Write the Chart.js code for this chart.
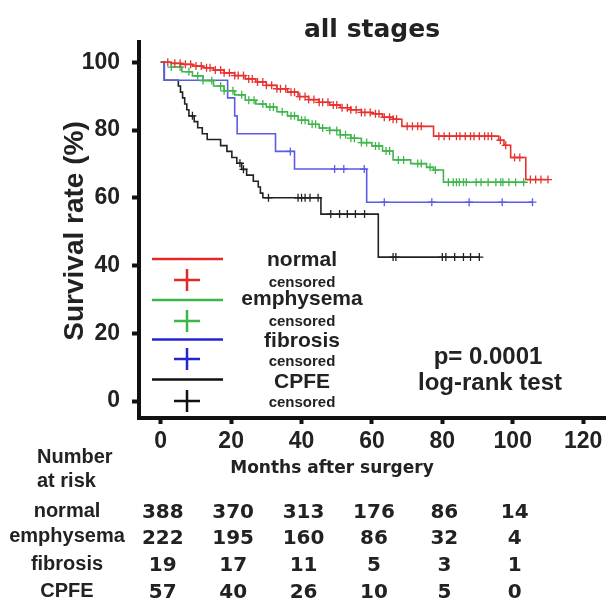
<!DOCTYPE html>
<html>
<head>
<meta charset="utf-8">
<script src="https://cdn.jsdelivr.net/npm/chart.js@4.4.1/dist/chart.umd.min.js"></script>
<style>
html, body { margin: 0; padding: 0; background: #fff; }
canvas { display: block; }
</style>
</head>
<body>
<canvas id="kmChart" width="611" height="600"></canvas>
<script>
// Kaplan-Meier steps: month of the drop and survival (%) after it
const normalMonths = [0, 3, 6, 9, 12, 15, 18, 21, 24, 27, 30, 33, 36, 39, 42, 45, 48, 51, 54, 57, 60, 63, 66, 68.5, 77.5, 96, 97.5, 99.4, 103.7, 110];
const normalSurv   = [100, 99.7, 99.4, 98.9, 98.4, 97.7, 96.9, 96.1, 95.1, 94.2, 93.2, 92.2, 91.2, 89.9, 89.0, 88.2, 87.4, 86.6, 86.0, 85.2, 84.8, 83.8, 83.2, 81.1, 78.2, 77.0, 75.5, 71.9, 65.4, 65.4];

const emphMonths = [0, 3, 6, 9, 12, 15, 18, 21, 24, 27, 30, 33, 36, 39, 42, 45, 48, 51, 54, 57, 60, 63, 66, 71, 75.5, 77.5, 80.3, 103.7];
const emphSurv   = [100, 98.6, 97.2, 96.0, 94.6, 93.0, 91.6, 90.4, 88.8, 87.7, 86.8, 85.4, 84.2, 82.9, 81.7, 80.6, 79.9, 78.6, 77.6, 76.3, 75.3, 73.8, 71.2, 70.1, 69.0, 68.2, 64.6, 64.6];

const fibMonths = [0, 1, 19, 21, 21.7, 32.6, 38, 58.5, 105.6];
const fibSurv   = [100, 94.7, 89.5, 84.2, 78.9, 73.7, 68.5, 58.7, 58.7];

const cpfeMonths = [0, 1, 5, 5.6, 6.2, 6.8, 7.4, 8, 9.5, 10.5, 11.8, 13.2, 17, 18.8, 20.2, 21.6, 23, 24.4, 26.3, 27.7, 28.3, 29, 45.5, 61.8, 90.5];
const cpfeSurv   = [100, 94.7, 93, 91.2, 89.5, 87.7, 86, 84.2, 82.5, 80.7, 78.9, 77.2, 75.4, 73.7, 71.9, 70.2, 68.4, 66.7, 64.9, 63.2, 61.4, 60, 55.2, 42.5, 42.5];

// censored observations (months)
const normalCens = [2, 4, 5.5, 7, 8.5, 10, 11.5, 13, 14, 15.5, 17, 18, 19.5, 21, 22, 23.5, 25, 26, 27.5, 29, 30, 31.5, 33, 34, 35.5, 37, 38, 39.5, 41, 42, 43.5, 45, 46, 47.5, 49, 50, 51.5, 53, 54, 55.5, 57, 58, 59.5, 61, 62, 63.5, 65, 66, 67, 70, 71.5, 73, 74, 79, 80.5, 82, 84, 85, 86.5, 88, 89, 90.5, 92, 93, 94, 96.5, 98, 100.5, 102, 105, 106.5, 108, 110];
const emphCens = [3, 5.5, 8, 10.5, 12, 14.5, 17, 18, 20.5, 23, 25, 26.5, 29, 31, 32, 34.5, 37, 38, 40, 41, 43, 44, 46, 48, 50, 51, 52.5, 54, 55, 57, 58.5, 61, 62, 64, 65, 67.5, 69, 73, 74, 76.5, 78, 81.7, 83.1, 84, 84.8, 86, 86.8, 89.6, 91, 93, 95.2, 96.6, 97.2, 98.9, 100.8, 103.1];
const fibCens = [36.8, 49.4, 52, 57.8, 63.5, 77, 87.6, 97, 105.6];
const cpfeCens = [9, 22.5, 23.5, 30.6, 39, 40, 41, 42.4, 44.7, 48.3, 50.8, 53, 55.3, 57.9, 66, 66.8, 80, 81, 83.5, 86, 88, 90.5];

// number at risk table
const riskMonths = [0, 20, 40, 60, 80, 100];
const riskNormal = [388, 370, 313, 176, 86, 14];
const riskEmph   = [222, 195, 160, 86, 32, 4];
const riskFib    = [19, 17, 11, 5, 3, 1];
const riskCpfe   = [57, 40, 26, 10, 5, 0];

const groupNames = ['normal', 'emphysema', 'fibrosis', 'CPFE'];
const yTicks = [0, 20, 40, 60, 80, 100];
const xTicks = [0, 20, 40, 60, 80, 100, 120];

const lineColors = ['#e8302e', '#3fb54c', '#5b5be6', '#222222'];
const legendColors = ['#e3282a', '#3cb54a', '#2424d0', '#111111'];

function stepPoints(months, surv) {
  return months.map((m, i) => ({ x: m, y: surv[i] }));
}

function survAt(months, surv, t) {
  let s = surv[0];
  for (let i = 0; i < months.length; i++) {
    if (months[i] <= t) s = surv[i];
  }
  return s;
}

function censPoints(cens, months, surv) {
  return cens.map(t => ({ x: t, y: survAt(months, surv, t) }));
}

const groups = [
  [normalMonths, normalSurv, normalCens],
  [emphMonths, emphSurv, emphCens],
  [fibMonths, fibSurv, fibCens],
  [cpfeMonths, cpfeSurv, cpfeCens]
];

let datasets = [];
groups.forEach((g, i) => {
  datasets.push({
    label: groupNames[i],
    data: stepPoints(g[0], g[1]),
    stepped: 'before',
    borderColor: lineColors[i],
    borderWidth: 1.6,
    pointRadius: 0,
    fill: false
  });
  datasets.push({
    label: groupNames[i] + ' censored',
    data: censPoints(g[2], g[0], g[1]),
    showLine: false,
    pointStyle: 'cross',
    pointRadius: 4,
    borderColor: lineColors[i],
    borderWidth: 1.3
  });
});

const boldSans = (size) => 'bold ' + size + 'px "Liberation Sans", Arial, sans-serif';
const boldDejavu = (size) => 'bold ' + size + 'px "DejaVu Sans", sans-serif';

const textPlugin = {
  id: 'kmText',
  afterDraw(chart) {
    const c = chart.ctx;
    const area = chart.chartArea;
    const xs = chart.scales.x;
    c.save();
    c.fillStyle = '#222';

    // title
    c.font = boldDejavu(25);
    c.textAlign = 'center';
    c.textBaseline = 'alphabetic';
    c.fillText('all stages', 372, 37);

    // y axis title
    c.save();
    c.translate(83, 231);
    c.rotate(-Math.PI / 2);
    c.font = boldSans(28);
    c.fillText('Survival rate (%)', 0, 0);
    c.restore();

    // x axis title
    c.font = boldDejavu(17);
    c.fillText('Months after surgery', 332, 473);

    // legend
    const lineY = [259, 300, 339.5, 379.5];
    const crossY = [280, 321, 359, 401];
    const labelY = [266, 305, 347, 388];
    const censY = [287, 326, 366, 407];
    for (let i = 0; i < 4; i++) {
      c.strokeStyle = legendColors[i];
      c.lineWidth = 2.5;
      c.beginPath();
      c.moveTo(152, lineY[i]);
      c.lineTo(223, lineY[i]);
      c.moveTo(174, crossY[i]);
      c.lineTo(200, crossY[i]);
      c.moveTo(187, crossY[i] - 11);
      c.lineTo(187, crossY[i] + 11);
      c.stroke();
      c.fillStyle = '#222';
      c.font = boldSans(21);
      c.fillText(groupNames[i], 302, labelY[i]);
      c.font = boldSans(15);
      c.fillText('censored', 302, censY[i]);
    }

    // p value
    c.font = boldSans(24);
    c.fillText('p= 0.0001', 488, 364);
    c.fillText('log-rank test', 490, 390);

    // number at risk
    c.textAlign = 'left';
    c.font = boldSans(20);
    c.fillText('Number', 37, 463);
    c.fillText('at risk', 37, 487);

    const riskRows = [riskNormal, riskEmph, riskFib, riskCpfe];
    const rowLabelY = [517, 542, 570, 597];
    const rowNumY = [518, 544, 571, 598];
    c.textAlign = 'center';
    riskRows.forEach((row, i) => {
      c.font = boldSans(20);
      c.fillText(groupNames[i], 67, rowLabelY[i]);
      c.font = boldDejavu(20);
      row.forEach((n, j) => {
        c.fillText(String(n), xs.getPixelForValue(riskMonths[j]) + 2, rowNumY[i]);
      });
    });
    c.restore();
  }
};

const ctx = document.getElementById('kmChart').getContext('2d');

const kmChart = new Chart(ctx, {
  type: 'line',
  data: { datasets: datasets },
  plugins: [textPlugin],
  options: {
    responsive: false,
    animation: false,
    layout: { padding: { left: 0, top: 42, right: 0, bottom: 142 } },
    plugins: {
      legend: { display: false },
      tooltip: { enabled: false },
      title: { display: false }
    },
    scales: {
      x: {
        type: 'linear',
        min: -6.18,
        max: 126.4,
        afterBuildTicks: (scale) => { scale.ticks = xTicks.map(v => ({ value: v })); },
        afterFit: (scale) => { scale.height = 40; },
        grid: { drawOnChartArea: false, drawTicks: true, tickLength: 6, tickWidth: 4, tickColor: '#111' },
        border: { display: true, width: 4, color: '#111' },
        ticks: {
          color: '#222',
          padding: 4,
          maxRotation: 0,
          autoSkip: false,
          font: { family: '"Liberation Sans", Arial, sans-serif', size: 23, weight: 'bold' }
        }
      },
      y: {
        type: 'linear',
        min: -5,
        max: 106,
        afterBuildTicks: (scale) => { scale.ticks = yTicks.map(v => ({ value: v })); },
        afterFit: (scale) => { scale.width = 139; },
        grid: { drawOnChartArea: false, drawTicks: true, tickLength: 7, tickWidth: 4, tickColor: '#111' },
        border: { display: true, width: 4, color: '#111' },
        ticks: {
          color: '#222',
          padding: 12,
          autoSkip: false,
          font: { family: '"Liberation Sans", Arial, sans-serif', size: 23, weight: 'bold' }
        }
      }
    }
  }
});
</script>
</body>
</html>
